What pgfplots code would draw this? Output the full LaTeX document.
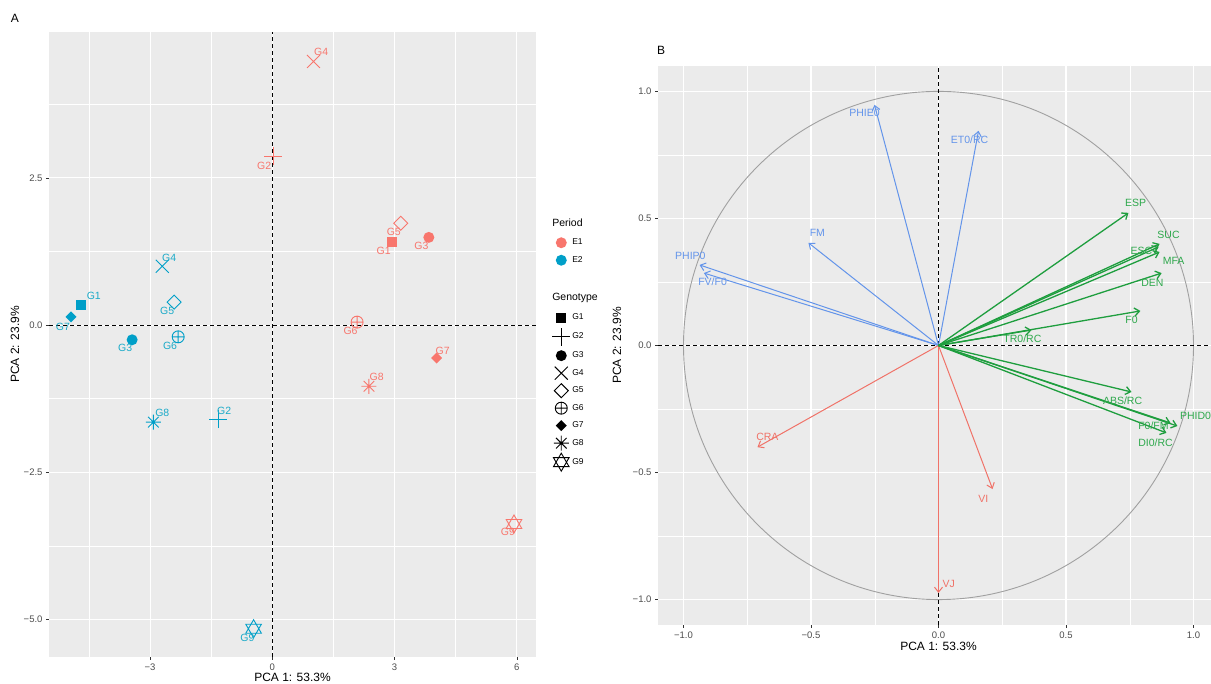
\documentclass[border=0pt]{standalone}
\usepackage{fontspec}
\setmainfont{Liberation Sans}
\usepackage{pgfplots}
\pgfplotsset{compat=1.18}
\usepackage{pgfplotstable}
\usetikzlibrary{arrows.meta}

% colours
\definecolor{ggbg}{RGB}{235,235,235}
\definecolor{ticklab}{RGB}{77,77,77}
\definecolor{tickcol}{RGB}{51,51,51}
\definecolor{eone}{HTML}{F8766D}
\definecolor{etwo}{HTML}{009FC8}
\definecolor{etwotext}{HTML}{1AAAC8}
\definecolor{vgreen}{HTML}{1E9E3E}
\definecolor{vgreentext}{HTML}{2EA84C}
\definecolor{vblue}{HTML}{6394EA}
\definecolor{vred}{HTML}{F07268}
\definecolor{circ}{RGB}{160,160,160}

\newcommand{\lblfont}{\fontsize{10.5}{12}\selectfont}

% genotype shapes
\pgfdeclareplotmark{ggsquare}{\pgfpathrectangle{\pgfqpoint{-5pt}{-5pt}}{\pgfqpoint{10pt}{10pt}}\pgfusepathqfill}
\pgfdeclareplotmark{ggplus}{%
  \pgfpathmoveto{\pgfqpoint{-9pt}{0pt}}\pgfpathlineto{\pgfqpoint{9pt}{0pt}}%
  \pgfpathmoveto{\pgfqpoint{0pt}{-9pt}}\pgfpathlineto{\pgfqpoint{0pt}{9pt}}\pgfusepathqstroke}
\pgfdeclareplotmark{ggcircle}{\pgfpathcircle{\pgfpointorigin}{5.5pt}\pgfusepathqfill}
\pgfdeclareplotmark{ggcross}{%
  \pgfpathmoveto{\pgfqpoint{-6.5pt}{-6.5pt}}\pgfpathlineto{\pgfqpoint{6.5pt}{6.5pt}}%
  \pgfpathmoveto{\pgfqpoint{-6.5pt}{6.5pt}}\pgfpathlineto{\pgfqpoint{6.5pt}{-6.5pt}}\pgfusepathqstroke}
\pgfdeclareplotmark{ggdiamond}{%
  \pgfpathmoveto{\pgfqpoint{0pt}{7pt}}\pgfpathlineto{\pgfqpoint{7pt}{0pt}}%
  \pgfpathlineto{\pgfqpoint{0pt}{-7pt}}\pgfpathlineto{\pgfqpoint{-7pt}{0pt}}\pgfpathclose\pgfusepathqstroke}
\pgfdeclareplotmark{ggoplus}{%
  \pgfpathcircle{\pgfpointorigin}{6pt}%
  \pgfpathmoveto{\pgfqpoint{-6pt}{0pt}}\pgfpathlineto{\pgfqpoint{6pt}{0pt}}%
  \pgfpathmoveto{\pgfqpoint{0pt}{-6pt}}\pgfpathlineto{\pgfqpoint{0pt}{6pt}}\pgfusepathqstroke}
\pgfdeclareplotmark{ggsmalldiamond}{%
  \pgfpathmoveto{\pgfqpoint{0pt}{5.5pt}}\pgfpathlineto{\pgfqpoint{5.5pt}{0pt}}%
  \pgfpathlineto{\pgfqpoint{0pt}{-5.5pt}}\pgfpathlineto{\pgfqpoint{-5.5pt}{0pt}}\pgfpathclose\pgfusepathqfill}
\pgfdeclareplotmark{ggstar}{%
  \pgfpathmoveto{\pgfqpoint{-7.5pt}{0pt}}\pgfpathlineto{\pgfqpoint{7.5pt}{0pt}}%
  \pgfpathmoveto{\pgfqpoint{0pt}{-7.5pt}}\pgfpathlineto{\pgfqpoint{0pt}{7.5pt}}%
  \pgfpathmoveto{\pgfqpoint{-5.3pt}{-5.3pt}}\pgfpathlineto{\pgfqpoint{5.3pt}{5.3pt}}%
  \pgfpathmoveto{\pgfqpoint{-5.3pt}{5.3pt}}\pgfpathlineto{\pgfqpoint{5.3pt}{-5.3pt}}\pgfusepathqstroke}
\pgfdeclareplotmark{ggdavid}{%
  \pgfpathmoveto{\pgfqpoint{0pt}{9pt}}\pgfpathlineto{\pgfqpoint{-7.8pt}{-4.5pt}}%
  \pgfpathlineto{\pgfqpoint{7.8pt}{-4.5pt}}\pgfpathclose
  \pgfpathmoveto{\pgfqpoint{0pt}{-9pt}}\pgfpathlineto{\pgfqpoint{-7.8pt}{4.5pt}}%
  \pgfpathlineto{\pgfqpoint{7.8pt}{4.5pt}}\pgfpathclose\pgfusepathqstroke}

\tikzset{zeroline/.style={black, dash pattern=on 4pt off 3pt, line width=1pt}}

\pgfplotsset{
  ggaxis/.style={
    scale only axis,
    axis background/.style={fill=ggbg},
    axis line style={draw=none},
    grid=both,
    major grid style={white, line width=1.1pt},
    minor grid style={white, line width=0.5pt},
    tick pos=left,
    tick align=outside,
    major tick length=3pt,
    minor tick length=0pt,
    tick style={tickcol, line width=0.6pt},
    tick label style={font=\fontsize{9.5}{11}\selectfont, text=ticklab},
    label style={font=\fontsize{12}{14}\selectfont},
  },
  genostyle/.style={scatter/classes={
    G1={mark=ggsquare,#1}, G2={mark=ggplus,#1}, G3={mark=ggcircle,#1},
    G4={mark=ggcross,#1}, G5={mark=ggdiamond,#1}, G6={mark=ggoplus,#1},
    G7={mark=ggsmalldiamond,#1}, G8={mark=ggstar,#1}, G9={mark=ggdavid,#1}}},
  % legend title row: no key, extra room below the title
  legend title row/.style={legend image code/.code={\path[draw=none, fill=none] (0pt,-#1) rectangle (0pt,0pt);}},
}

% scores: x y, label position lx ly, genotype
\pgfplotstableread{
x y lx ly g
2.93 1.41 2.73 1.26 G1
0.02 2.87 -0.20 2.70 G2
3.84 1.49 3.66 1.34 G3
1.01 4.48 1.20 4.65 G4
3.15 1.73 2.98 1.58 G5
2.08 0.05 1.92 -0.10 G6
4.03 -0.56 4.18 -0.44 G7
2.37 -1.04 2.56 -0.88 G8
5.93 -3.38 5.78 -3.51 G9
}\periodone
\pgfplotstableread{
x y lx ly g
-4.70 0.34 -4.38 0.49 G1
-1.33 -1.60 -1.18 -1.46 G2
-3.44 -0.25 -3.61 -0.39 G3
-2.70 1.00 -2.53 1.15 G4
-2.41 0.39 -2.58 0.24 G5
-2.31 -0.20 -2.51 -0.36 G6
-4.94 0.14 -5.14 -0.03 G7
-2.92 -1.65 -2.70 -1.49 G8
-0.46 -5.16 -0.61 -5.31 G9
}\periodtwo

% loadings: u v, label position lx ly, variable
\pgfplotstableread{
u v lx ly lab
-0.251 0.947 -0.290 0.915 PHIE0
0.157 0.845 0.122 0.808 ET0/RC
-0.510 0.404 -0.475 0.443 FM
-0.937 0.317 -0.973 0.352 PHIP0
-0.920 0.285 -0.886 0.250 FV/F0
}\bluevars
\pgfplotstableread{
u v lx ly lab
-0.710 -0.400 -0.671 -0.360 CRA
0.212 -0.565 0.176 -0.604 VI
0.000 -0.974 0.040 -0.939 VJ
}\redvars
\pgfplotstableread{
u v lx ly lab
0.745 0.522 0.773 0.561 ESP
0.867 0.400 0.902 0.435 SUC
0.863 0.388 0.796 0.372 ESC
0.867 0.368 0.922 0.333 MFA
0.875 0.285 0.839 0.246 DEN
0.792 0.136 0.757 0.100 F0
0.365 0.061 0.329 0.026 TR0/RC
0.757 -0.183 0.722 -0.219 ABS/RC
0.937 -0.317 1.008 -0.278 PHID0
0.910 -0.305 0.843 -0.317 F0/FM
0.894 -0.344 0.851 -0.384 DI0/RC
}\greenvars

\begin{document}
\begin{tikzpicture}
\useasboundingbox (0pt,0pt) rectangle (1211pt,684pt);

% ---------------- panel A: scores ----------------
\begin{axis}[ggaxis,
  at={(49pt,27pt)}, anchor=south west,
  width=487pt, height=625pt,
  xmin=-5.48, xmax=6.47, ymin=-5.64, ymax=4.98,
  xtick={-3,0,3,6}, xticklabels={−3,0,3,6},
  ytick={-5,-2.5,0,2.5}, yticklabels={−5.0,−2.5,0.0,2.5},
  minor xtick={-4.5,-1.5,1.5,4.5},
  minor ytick={-3.75,-1.25,1.25,3.75},
  xlabel={PCA 1: 53.3\%}, ylabel={PCA 2: 23.9\%},
  x label style={at={(axis description cs:0.5,-0.032)}, anchor=center},
  y label style={at={(axis description cs:-0.07,0.5)}, anchor=center},
  legend cell align=left,
  legend image code/.code={\path[draw=none, fill=none] (0pt,-7.5pt) rectangle (16pt,7.5pt); \draw[#1] plot coordinates {(8pt,0pt)};},
  legend style={at={(axis description cs:1.033,0.704)}, anchor=north west,
    draw=none, fill=none, font=\fontsize{8.5}{10}\selectfont,
    row sep=2.5pt, inner sep=0pt},
]
\draw[zeroline] ({axis cs:0,0}|-{rel axis cs:0,0}) -- ({axis cs:0,0}|-{rel axis cs:0,1});
\draw[zeroline] ({axis cs:0,0}-|{rel axis cs:0,0}) -- ({axis cs:0,0}-|{rel axis cs:1,0});

\addplot[scatter, only marks, forget plot, line width=0.9pt,
  point meta=explicit symbolic, genostyle=eone] table[x=x, y=y, meta=g] {\periodone};
\addplot[scatter, only marks, forget plot, line width=0.9pt,
  point meta=explicit symbolic, genostyle=etwo] table[x=x, y=y, meta=g] {\periodtwo};

\addplot[draw=none, forget plot, nodes near coords, point meta=explicit symbolic,
  every node near coord/.append style={anchor=center, font=\lblfont, text=eone, inner sep=0pt}]
  table[x=lx, y=ly, meta=g] {\periodone};
\addplot[draw=none, forget plot, nodes near coords, point meta=explicit symbolic,
  every node near coord/.append style={anchor=center, font=\lblfont, text=etwotext, inner sep=0pt}]
  table[x=lx, y=ly, meta=g] {\periodtwo};

% legend
\addlegendimage{legend title row=9pt}
\addlegendentry{\hspace*{-20pt}\fontsize{10.5}{12}\selectfont Period}
\addlegendimage{only marks, mark=ggcircle, eone}
\addlegendentry{E1}
\addlegendimage{only marks, mark=ggcircle, etwo}
\addlegendentry{E2}
\addlegendimage{empty legend}
\addlegendentry{\rule{0pt}{13pt}}
\addlegendimage{legend title row=10pt}
\addlegendentry{\hspace*{-20pt}\fontsize{10.5}{12}\selectfont Genotype}
\addlegendimage{only marks, mark=ggsquare, black, line width=0.9pt}
\addlegendentry{G1}
\addlegendimage{only marks, mark=ggplus, black, line width=0.9pt}
\addlegendentry{G2}
\addlegendimage{only marks, mark=ggcircle, black, line width=0.9pt}
\addlegendentry{G3}
\addlegendimage{only marks, mark=ggcross, black, line width=0.9pt}
\addlegendentry{G4}
\addlegendimage{only marks, mark=ggdiamond, black, line width=0.9pt}
\addlegendentry{G5}
\addlegendimage{only marks, mark=ggoplus, black, line width=0.9pt}
\addlegendentry{G6}
\addlegendimage{only marks, mark=ggsmalldiamond, black, line width=0.9pt}
\addlegendentry{G7}
\addlegendimage{only marks, mark=ggstar, black, line width=0.9pt}
\addlegendentry{G8}
\addlegendimage{only marks, mark=ggdavid, black, line width=0.9pt}
\addlegendentry{G9}
\end{axis}

% ---------------- panel B: loadings ----------------
\begin{axis}[ggaxis,
  at={(658pt,59pt)}, anchor=south west,
  width=561pt, height=559pt,
  xmin=-1.1, xmax=1.1, ymin=-1.1, ymax=1.1,
  xtick={-1,-0.5,0,0.5,1}, xticklabels={−1.0,−0.5,0.0,0.5,1.0},
  ytick={-1,-0.5,0,0.5,1}, yticklabels={−1.0,−0.5,0.0,0.5,1.0},
  minor xtick={-0.75,-0.25,0.25,0.75},
  minor ytick={-0.75,-0.25,0.25,0.75},
  xlabel={PCA 1: 53.3\%}, ylabel={PCA 2: 23.9\%},
  x label style={at={(axis description cs:0.5,-0.038)}, anchor=center},
  y label style={at={(axis description cs:-0.073,0.5)}, anchor=center},
]
\draw[circ, line width=0.9pt] (axis cs:0,0) ellipse [x radius=1, y radius=1];
\draw[zeroline] ({axis cs:0,0}|-{rel axis cs:0,0}) -- ({axis cs:0,0}|-{rel axis cs:0,1});
\draw[zeroline] ({axis cs:0,0}-|{rel axis cs:0,0}) -- ({axis cs:0,0}-|{rel axis cs:1,0});

\addplot[vblue, line width=1pt, -{Straight Barb[length=5pt,width=8pt]},
  quiver={u=\thisrow{u}, v=\thisrow{v}}] table[x expr=0, y expr=0] {\bluevars};
\addplot[vred, line width=1pt, -{Straight Barb[length=5pt,width=8pt]},
  quiver={u=\thisrow{u}, v=\thisrow{v}}] table[x expr=0, y expr=0] {\redvars};
\addplot[vgreen, line width=1.3pt, -{Straight Barb[length=5pt,width=8pt]},
  quiver={u=\thisrow{u}, v=\thisrow{v}}] table[x expr=0, y expr=0] {\greenvars};

\addplot[draw=none, nodes near coords, point meta=explicit symbolic,
  every node near coord/.append style={anchor=center, font=\lblfont, text=vblue, inner sep=0pt}]
  table[x=lx, y=ly, meta=lab] {\bluevars};
\addplot[draw=none, nodes near coords, point meta=explicit symbolic,
  every node near coord/.append style={anchor=center, font=\lblfont, text=vred, inner sep=0pt}]
  table[x=lx, y=ly, meta=lab] {\redvars};
\addplot[draw=none, nodes near coords, point meta=explicit symbolic,
  every node near coord/.append style={anchor=center, font=\lblfont, text=vgreentext, inner sep=0pt}]
  table[x=lx, y=ly, meta=lab] {\greenvars};
\end{axis}

% panel tags
\node[font=\fontsize{12}{14}\selectfont] at (15pt,666pt) {A};
\node[font=\fontsize{12}{14}\selectfont] at (661pt,634pt) {B};
\end{tikzpicture}
\end{document}
